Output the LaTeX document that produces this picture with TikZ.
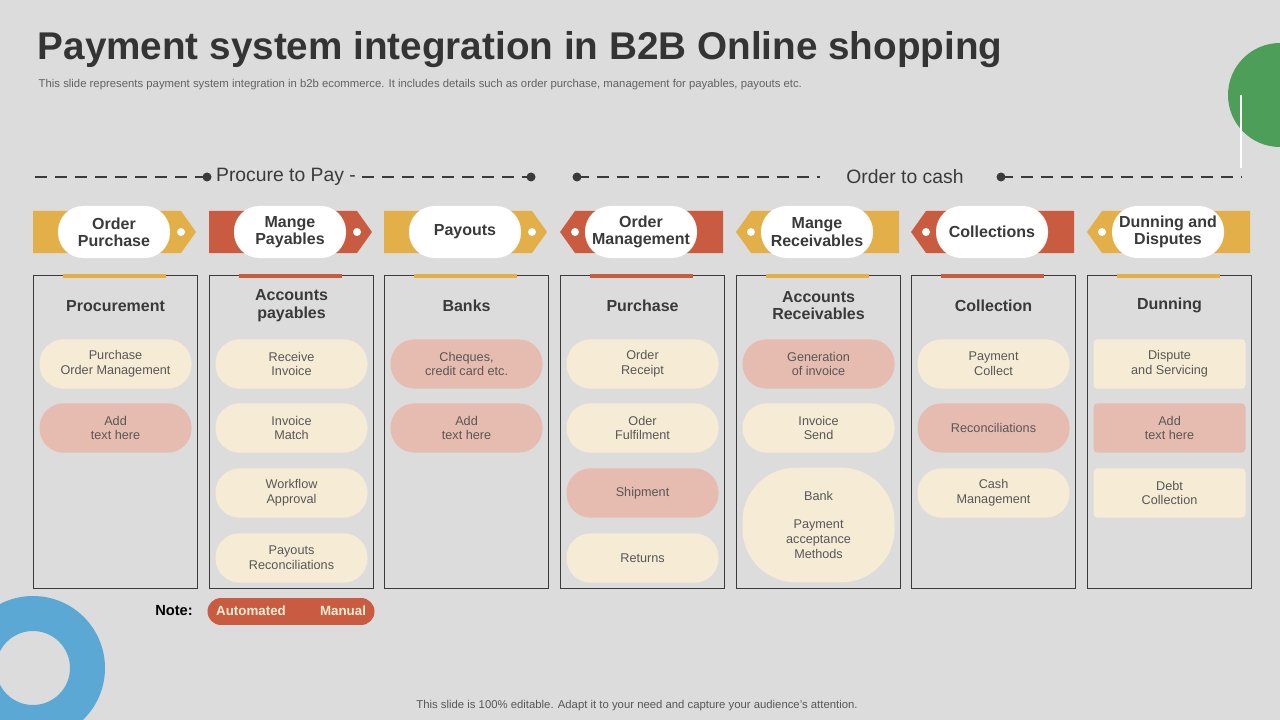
\documentclass[tikz,border=0pt]{standalone}
\usepackage{fontspec}
\setmainfont{Liberation Sans}
\usetikzlibrary{positioning}
\definecolor{bgc}{HTML}{DCDCDC}
\definecolor{ylw}{HTML}{E2AF48}
\definecolor{rdc}{HTML}{C95C40}
\definecolor{pnk}{HTML}{E7BCB0}
\definecolor{crm}{HTML}{F6ECD6}
\definecolor{txt}{HTML}{3A3A3A}
\definecolor{grn}{HTML}{4C9E58}
\definecolor{blu}{HTML}{5BA8D4}
\tikzset{
  pill/.style={rounded corners=18pt, minimum width=114pt, minimum height=37pt, align=center, font=\fontsize{9.5}{11}\selectfont, text=txt!85},
  oval/.style={rounded corners=19pt, fill=white, minimum width=84pt, minimum height=39pt, align=center, font=\bfseries\fontsize{12}{13}\selectfont, text=txt},
  colbox/.style={draw=txt, line width=0.8pt, minimum width=123pt, minimum height=235pt, anchor=north west},
  head/.style={align=center, font=\bfseries\fontsize{12}{13}\selectfont, text=txt},
  phaseline/.style={dashed, dash pattern=on 9pt off 6pt, line width=2pt, txt}
}
\begin{document}
\begin{tikzpicture}[x=0.75pt,y=-0.75pt]
\fill[bgc] (0,0) rectangle (1280,720);
\useasboundingbox (0,0) rectangle (1280,720);
% decorations
\begin{scope}
\clip (0,0) rectangle (1280,720);
\fill[grn] (1280,95) circle (52);
\draw[white, line width=2pt] (1241,95) -- (1241,168);
\fill[blu, even odd rule] (33,668) circle (72) (33,668) circle (37);
\end{scope}
% title
\node[anchor=west, font=\bfseries\fontsize{29}{32}\selectfont, text=txt!90!black] (title) at (33,50) {Payment system integration in B2B Online shopping};
\node[anchor=west, font=\fontsize{8.5}{9}\selectfont, text=txt!80] (sub) at (34,85) {This slide represents payment system integration in b2b ecommerce. It includes details such as order purchase, management for payables, payouts etc.};
% phase line
\node[font=\fontsize{14.5}{15}\selectfont, text=txt] (ptp) at (286,177) {Procure to Pay -};
\node[font=\fontsize{14.5}{15}\selectfont, text=txt] (otc) at (905,177) {Order to cash};
\coordinate (l1) at (35,177); \coordinate (d1) at (207,177);
\coordinate (d2) at (531,177); \coordinate (d3) at (577,177);
\coordinate (r1) at (820,177); \coordinate (d4) at (1001,177);
\coordinate (r2) at (1242,177); \coordinate (m1) at (362,177);
\draw[phaseline] (l1) -- (d1); \draw[phaseline] (m1) -- (d2);
\draw[phaseline] (d3) -- (r1); \draw[phaseline] (d4) -- (r2);
\foreach \d in {d1,d2,d3,d4} \fill[txt] (\d) circle (4.5);
% tags
\foreach \i/\x/\c/\dir/\lab in {1/33/ylw/1/Order\\Purchase, 2/209/rdc/1/Mange\\Payables, 3/384/ylw/1/Payouts, 4/560/rdc/0/Order\\Management, 5/736/ylw/0/Mange\\Receivables, 6/911/rdc/0/Collections, 7/1087/ylw/0/Dunning and\\Disputes}{
  \ifnum\dir=1
    \fill[\c] (\x,211) -- (\x+148,211) -- (\x+163,232) -- (\x+148,253) -- (\x,253) -- cycle;
    \fill[white] (\x+148,232) circle (4);
  \else
    \fill[\c] (\x,232) -- (\x+15,211) -- (\x+163,211) -- (\x+163,253) -- (\x+15,253) -- cycle;
    \fill[white] (\x+15,232) circle (4);
  \fi
  \node[oval] (tag\i) at (\x+81,232) {\lab};
  \node[colbox] (box\i) at (\x,275) {};
  \draw[\c, line width=3pt] (\x+30,276) -- (\x+133,276);
}
% headings
\foreach \i/\lab in {1/Procurement, 2/Accounts\\payables, 3/Banks, 4/Purchase, 5/Accounts\\Receivables, 6/Collection, 7/Dunning}
  \node[head] (hd\i) at ([yshift=-23]box\i.north) {\lab};
% items
\foreach \i/\j/\y/\c/\lab in {
  1/1/364/crm/Purchase\\Order Management, 1/2/428/pnk/Add\\text here,
  2/1/364/crm/Receive\\Invoice, 2/2/428/crm/Invoice\\Match, 2/3/493/crm/Workflow\\Approval, 2/4/558/crm/Payouts\\Reconciliations,
  3/1/364/pnk/{Cheques,\\credit card etc.}, 3/2/428/pnk/Add\\text here,
  4/1/364/crm/Order\\Receipt, 4/2/428/crm/Oder\\Fulfilment, 4/3/493/pnk/Shipment, 4/4/558/crm/Returns,
  5/1/364/pnk/Generation\\of invoice, 5/2/428/crm/Invoice\\Send,
  6/1/364/crm/Payment\\Collect, 6/2/428/pnk/Reconciliations, 6/3/493/crm/Cash\\Management}
  \node[pill, fill=\c] (it\i\j) at (box\i.center |- 0,\y) {\lab};
\node[pill, fill=crm, rounded corners=40pt, minimum height=86pt] (it53) at (box5.center |- 0,525) {Bank\\[10pt]Payment\\acceptance\\Methods};
\foreach \j/\y/\c/\lab in {1/364/crm/Dispute\\and Servicing, 2/428/pnk/Add\\text here, 3/493/crm/Debt\\Collection}
  \node[pill, fill=\c, rounded corners=3pt] (it7\j) at (box7.center |- 0,\y) {\lab};
% note
\node[font=\bfseries\fontsize{11}{12}\selectfont] (note) at (174,611) {Note:};
\fill[rdc] (221,598) rectangle (361,625);
\fill[rdc] (221,611.5) circle (13.5) (361,611.5) circle (13.5);
\node[font=\bfseries\fontsize{10}{11}\selectfont, text=crm] (auto) at (251,611) {Automated};
\node[font=\bfseries\fontsize{10}{11}\selectfont, text=crm] (man) at (343,611) {Manual};
\node[font=\fontsize{8.5}{9}\selectfont, text=txt!85] (foot) at (637,706) {This slide is 100\% editable. Adapt it to your need and capture your audience's attention.};
\end{tikzpicture}
\end{document}
